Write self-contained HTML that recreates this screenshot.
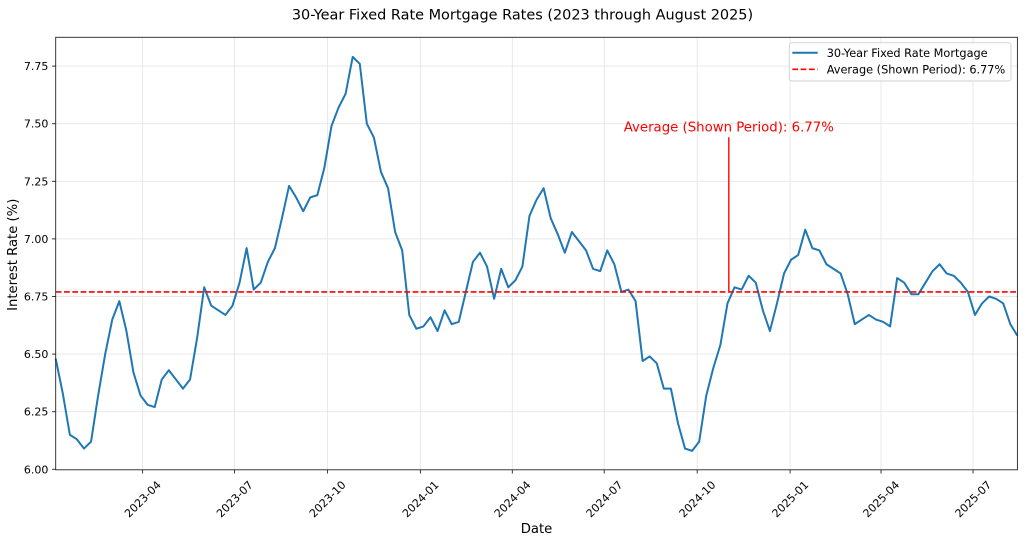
<!DOCTYPE html>
<html><head><meta charset="utf-8"><style>
html,body{margin:0;padding:0;background:#fff;}
svg{display:block;}
text{font-family:"DejaVu Sans","Liberation Sans",sans-serif;fill:#000;}
</style></head><body>
<svg width="1024" height="543" viewBox="0 0 1024 543" xmlns="http://www.w3.org/2000/svg">
<rect x="0" y="0" width="1024" height="543" fill="#fff"/>
<!-- title -->
<text x="522.5" y="19.5" font-size="14.45" text-anchor="middle">30-Year Fixed Rate Mortgage Rates (2023 through August 2025)</text>
<!-- grid -->
<g stroke="#e6e6e6" stroke-width="0.9">
<line x1="142.6" y1="37.3" x2="142.6" y2="469.8"/>
<line x1="234.5" y1="37.3" x2="234.5" y2="469.8"/>
<line x1="327.4" y1="37.3" x2="327.4" y2="469.8"/>
<line x1="420.4" y1="37.3" x2="420.4" y2="469.8"/>
<line x1="512.3" y1="37.3" x2="512.3" y2="469.8"/>
<line x1="604.2" y1="37.3" x2="604.2" y2="469.8"/>
<line x1="697.2" y1="37.3" x2="697.2" y2="469.8"/>
<line x1="790.1" y1="37.3" x2="790.1" y2="469.8"/>
<line x1="881.0" y1="37.3" x2="881.0" y2="469.8"/>
<line x1="973.0" y1="37.3" x2="973.0" y2="469.8"/>
<line x1="55.7" y1="411.7" x2="1017.4" y2="411.7"/>
<line x1="55.7" y1="354.1" x2="1017.4" y2="354.1"/>
<line x1="55.7" y1="296.5" x2="1017.4" y2="296.5"/>
<line x1="55.7" y1="238.9" x2="1017.4" y2="238.9"/>
<line x1="55.7" y1="181.3" x2="1017.4" y2="181.3"/>
<line x1="55.7" y1="123.7" x2="1017.4" y2="123.7"/>
<line x1="55.7" y1="66.1" x2="1017.4" y2="66.1"/>
</g>
<!-- data line -->
<polyline fill="none" stroke="#1f77b4" stroke-width="2" stroke-linejoin="round" vector-effect="non-scaling-stroke"
transform="matrix(7.0713 0 0 -230.4 55.7 1851.7)"
points="0,6.48 1,6.33 2,6.15 3,6.13 4,6.09 5,6.12 6,6.32 7,6.50 8,6.65 9,6.73 10,6.60 11,6.42 12,6.32 13,6.28 14,6.27 15,6.39 16,6.43 17,6.39 18,6.35 19,6.39 20,6.57 21,6.79 22,6.71 23,6.69 24,6.67 25,6.71 26,6.81 27,6.96 28,6.78 29,6.81 30,6.90 31,6.96 32,7.09 33,7.23 34,7.18 35,7.12 36,7.18 37,7.19 38,7.31 39,7.49 40,7.57 41,7.63 42,7.79 43,7.76 44,7.50 45,7.44 46,7.29 47,7.22 48,7.03 49,6.95 50,6.67 51,6.61 52,6.62 53,6.66 54,6.60 55,6.69 56,6.63 57,6.64 58,6.77 59,6.90 60,6.94 61,6.88 62,6.74 63,6.87 64,6.79 65,6.82 66,6.88 67,7.10 68,7.17 69,7.22 70,7.09 71,7.02 72,6.94 73,7.03 74,6.99 75,6.95 76,6.87 77,6.86 78,6.95 79,6.89 80,6.77 81,6.78 82,6.73 83,6.47 84,6.49 85,6.46 86,6.35 87,6.35 88,6.20 89,6.09 90,6.08 91,6.12 92,6.32 93,6.44 94,6.54 95,6.72 96,6.79 97,6.78 98,6.84 99,6.81 100,6.69 101,6.60 102,6.72 103,6.85 104,6.91 105,6.93 106,7.04 107,6.96 108,6.95 109,6.89 110,6.87 111,6.85 112,6.76 113,6.63 114,6.65 115,6.67 116,6.65 117,6.64 118,6.62 119,6.83 120,6.81 121,6.76 122,6.76 123,6.81 124,6.86 125,6.89 126,6.85 127,6.84 128,6.81 129,6.77 130,6.67 131,6.72 132,6.75 133,6.74 134,6.72 135,6.63 136,6.58"/>
<!-- average line -->
<line x1="55.7" y1="291.9" x2="1017.4" y2="291.9" stroke="#ff0000" stroke-width="1.6" stroke-dasharray="5.8,2.5"/>
<!-- annotation -->
<line x1="728.8" y1="137.3" x2="728.8" y2="291.9" stroke="#ff2020" stroke-width="1.6"/>
<text x="728.8" y="131.3" font-size="13.3" text-anchor="middle" style="fill:#ff0000">Average (Shown Period): 6.77%</text>
<!-- spines -->
<rect x="55.7" y="37.3" width="961.7" height="432.5" fill="none" stroke="#222" stroke-width="0.9"/>
<!-- ticks -->
<g stroke="#222" stroke-width="0.9">
<line x1="52" y1="469.3" x2="55.7" y2="469.3"/>
<line x1="52" y1="411.7" x2="55.7" y2="411.7"/>
<line x1="52" y1="354.1" x2="55.7" y2="354.1"/>
<line x1="52" y1="296.5" x2="55.7" y2="296.5"/>
<line x1="52" y1="238.9" x2="55.7" y2="238.9"/>
<line x1="52" y1="181.3" x2="55.7" y2="181.3"/>
<line x1="52" y1="123.7" x2="55.7" y2="123.7"/>
<line x1="52" y1="66.1" x2="55.7" y2="66.1"/>
<line x1="142.6" y1="469.8" x2="142.6" y2="473.5"/>
<line x1="234.5" y1="469.8" x2="234.5" y2="473.5"/>
<line x1="327.4" y1="469.8" x2="327.4" y2="473.5"/>
<line x1="420.4" y1="469.8" x2="420.4" y2="473.5"/>
<line x1="512.3" y1="469.8" x2="512.3" y2="473.5"/>
<line x1="604.2" y1="469.8" x2="604.2" y2="473.5"/>
<line x1="697.2" y1="469.8" x2="697.2" y2="473.5"/>
<line x1="790.1" y1="469.8" x2="790.1" y2="473.5"/>
<line x1="881.0" y1="469.8" x2="881.0" y2="473.5"/>
<line x1="973.0" y1="469.8" x2="973.0" y2="473.5"/>
</g>
<g font-size="11" text-anchor="end">
<text x="48.4" y="473.3">6.00</text>
<text x="48.4" y="415.7">6.25</text>
<text x="48.4" y="358.1">6.50</text>
<text x="48.4" y="300.5">6.75</text>
<text x="48.4" y="242.9">7.00</text>
<text x="48.4" y="185.3">7.25</text>
<text x="48.4" y="127.7">7.50</text>
<text x="48.4" y="70.1">7.75</text>
</g>
<g font-size="11" text-anchor="middle">
<text transform="translate(142.6,499) rotate(-45)" y="4">2023-04</text>
<text transform="translate(234.5,499) rotate(-45)" y="4">2023-07</text>
<text transform="translate(327.4,499) rotate(-45)" y="4">2023-10</text>
<text transform="translate(420.4,499) rotate(-45)" y="4">2024-01</text>
<text transform="translate(512.3,499) rotate(-45)" y="4">2024-04</text>
<text transform="translate(604.2,499) rotate(-45)" y="4">2024-07</text>
<text transform="translate(697.2,499) rotate(-45)" y="4">2024-10</text>
<text transform="translate(790.1,499) rotate(-45)" y="4">2025-01</text>
<text transform="translate(881.0,499) rotate(-45)" y="4">2025-04</text>
<text transform="translate(973.0,499) rotate(-45)" y="4">2025-07</text>
</g>
<!-- axis labels -->
<text x="536.5" y="532.8" font-size="13.2" text-anchor="middle">Date</text>
<text transform="translate(17,254.8) rotate(-90)" font-size="13.2" text-anchor="middle">Interest Rate (%)</text>
<!-- legend -->
<rect x="789.3" y="42.7" width="221.7" height="38.3" rx="2.5" ry="2.5" fill="#fff" fill-opacity="0.8" stroke="#d0d0d0" stroke-width="0.9"/>
<line x1="792.3" y1="52.7" x2="817.7" y2="52.7" stroke="#1f77b4" stroke-width="2"/>
<line x1="792.3" y1="69.3" x2="817.7" y2="69.3" stroke="#ff0000" stroke-width="1.6" stroke-dasharray="5.8,2.5"/>
<text x="826.7" y="56.8" font-size="11.3">30-Year Fixed Rate Mortgage</text>
<text x="826.7" y="73.4" font-size="11.3">Average (Shown Period): 6.77%</text>
</svg>
</body></html>
